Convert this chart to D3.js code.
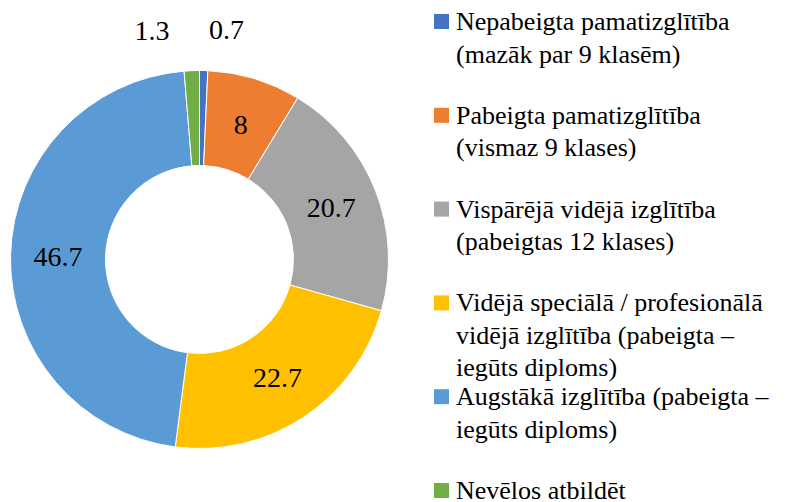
<!DOCTYPE html>
<html lang="lv">
<head>
<meta charset="utf-8">
<script src="https://cdn.jsdelivr.net/npm/d3@7"></script>
<style>
  svg text, svg tspan { font-family: "Liberation Serif", serif !important; }
</style>
</head>
<body style="margin:0; background:#fff">
<svg width="811" height="502" font-family="Liberation Serif"></svg>
<script>
// data
const categories = [
  ["Nepabeigta pamatizglītība", "(mazāk par 9 klasēm)"],
  ["Pabeigta pamatizglītība", "(vismaz 9 klases)"],
  ["Vispārējā vidējā izglītība", "(pabeigtas 12 klases)"],
  ["Vidējā speciālā / profesionālā", "vidējā izglītība (pabeigta –", "iegūts diploms)"],
  ["Augstākā izglītība (pabeigta –", "iegūts diploms)"],
  ["Nevēlos atbildēt"]
];
const values = [0.7, 8, 20.7, 22.7, 46.7, 1.3];
const colors = ["#4472C4", "#ED7D31", "#A5A5A5", "#FFC000", "#5B9BD5", "#70AD47"];

const svg = d3.select("svg");
const cx = 199.5, cy = 259.5;
const outerR = 189, innerR = 94;

const pie = d3.pie().sort(null).value(d => d);
const arcs = pie(values);

const arc = d3.arc().innerRadius(innerR).outerRadius(outerR);

const donut = svg.append("g").attr("transform", `translate(${cx},${cy})`);

donut.selectAll("path")
  .data(arcs)
  .join("path")
  .attr("d", arc)
  .attr("fill", (d, i) => colors[i])
  .attr("stroke", "#fff")
  .attr("stroke-width", 1);

// labels: big slices inside at the centroid, tiny ones pushed out above
const outerLabel = d3.arc().innerRadius(230).outerRadius(230);
const nudge = {0: 22, 5: -38};

donut.selectAll("text")
  .data(arcs)
  .join("text")
  .attr("transform", (d, i) => {
    if (d.endAngle - d.startAngle < 0.2) {
      const [x, y] = outerLabel.centroid(d);
      return `translate(${x + (nudge[i] || 0)},${y})`;
    }
    return `translate(${arc.centroid(d)})`;
  })
  .attr("text-anchor", "middle")
  .attr("dy", "0.35em")
  .attr("font-family", "Liberation Serif")
  .attr("font-size", 28)
  .attr("fill", "#000")
  .text(d => d.data);

// legend
const legend = svg.append("g").attr("transform", "translate(434,0)");
const entryY = d3.scaleLinear().domain([0, 5]).range([30, 499]);
const lineH = 32.5;

const item = legend.selectAll("g")
  .data(categories)
  .join("g")
  .attr("transform", (d, i) => `translate(0,${entryY(i)})`);

item.append("rect")
  .attr("x", 0)
  .attr("y", -16)
  .attr("width", 15)
  .attr("height", 15)
  .attr("fill", (d, i) => colors[i]);

item.append("text")
  .attr("font-family", "Liberation Serif")
  .attr("font-size", 26)
  .attr("fill", "#000")
  .selectAll("tspan")
  .data(d => d)
  .join("tspan")
  .attr("x", 22)
  .attr("y", (d, j) => j * lineH)
  .text(d => d);
</script>
</body>
</html>
